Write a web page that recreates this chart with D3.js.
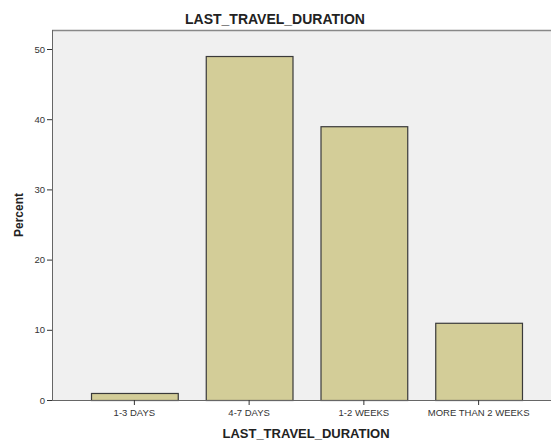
<!DOCTYPE html>
<html><head><meta charset="utf-8">
<script src="https://cdn.jsdelivr.net/npm/d3@7"></script>
<style>body{margin:0;background:#fff;}svg{display:block;font-family:"Liberation Sans",Arial,sans-serif;}</style>
</head><body><svg id="c" width="551" height="440"></svg>
<script>
const categories = ["1-3 DAYS", "4-7 DAYS", "1-2 WEEKS", "MORE THAN 2 WEEKS"];
const percentValues = [1, 49, 39, 11];
const yTicks = [0, 10, 20, 30, 40, 50];

const svg = d3.select("#c");
const mLeft = 52, mTop = 30, mBottom = 400, mRight = 561;

const x = d3.scaleBand().domain(categories).range([mLeft, mRight]).paddingInner(0.244).paddingOuter(0.34);
const y = d3.scaleLinear().domain([0, 50]).range([mBottom, mBottom - 50 * 7.02]);

svg.append("rect").attr("x", mLeft).attr("y", mTop).attr("width", mRight - mLeft).attr("height", mBottom - mTop)
  .attr("fill", "#f0f0f0");
svg.append("line").attr("x1", mLeft).attr("x2", 551).attr("y1", mTop + 0.5).attr("y2", mTop + 0.5)
  .attr("stroke", "#888").attr("stroke-width", 1.5);

svg.append("g").selectAll("rect").data(percentValues).join("rect")
  .attr("x", (d, i) => x(categories[i]) + 0.5)
  .attr("y", d => y(d) + 0.5)
  .attr("width", x.bandwidth())
  .attr("height", d => mBottom - y(d))
  .attr("fill", "#d3cd98").attr("stroke", "#3a3a3a").attr("stroke-width", 1.2);

const ya = svg.append("g").attr("transform", `translate(${mLeft},0)`)
  .call(d3.axisLeft(y).tickValues(yTicks).tickSize(5).tickPadding(2).tickFormat(d3.format("d")));
ya.select(".domain").attr("stroke", "#666").attr("d", `M0.5,${mTop}V${mBottom}`);
ya.selectAll(".tick line").attr("stroke", "#333");
ya.selectAll("text").attr("font-size", 9.5).attr("fill", "#333").attr("font-family", "Liberation Sans, Arial, sans-serif");

const xa = svg.append("g").attr("transform", `translate(0,${mBottom})`)
  .call(d3.axisBottom(x).tickSize(5).tickPadding(4));
xa.select(".domain").attr("stroke", "#666").attr("d", `M${mLeft},0.5H551`);
xa.selectAll(".tick line").attr("stroke", "#333");
xa.selectAll("text").attr("font-size", 9.5).attr("fill", "#333").attr("font-family", "Liberation Sans, Arial, sans-serif");

svg.append("text").attr("x", 275).attr("y", 24).attr("text-anchor", "middle")
  .attr("font-size", 14).attr("font-weight", "bold").attr("fill", "#222").text("LAST_TRAVEL_DURATION");
svg.append("text").attr("x", 306).attr("y", 438).attr("text-anchor", "middle")
  .attr("font-size", 13).attr("font-weight", "bold").attr("fill", "#222").text("LAST_TRAVEL_DURATION");
svg.append("text").attr("transform", "translate(23,215) rotate(-90)").attr("text-anchor", "middle")
  .attr("font-size", 12).attr("font-weight", "bold").attr("fill", "#222").text("Percent");
</script></body></html>
